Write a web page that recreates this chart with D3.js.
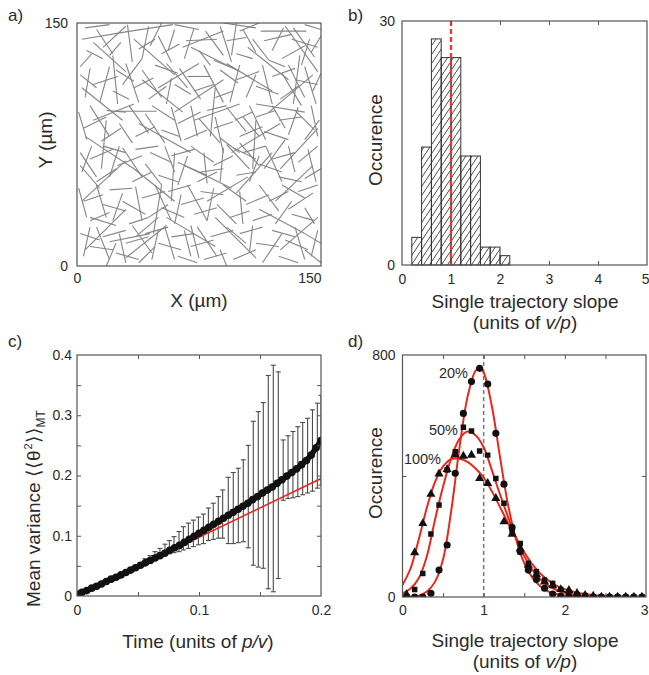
<!DOCTYPE html>
<html lang="en">
<head>
<meta charset="UTF-8">
<title>Trajectory slopes</title>
<script src="https://cdn.jsdelivr.net/npm/d3@7"></script>
<style>
  body { margin: 0; background: #fff; }
  svg { font-family: "Liberation Sans", Arial, sans-serif; }
</style>
</head>
<body>
<svg id="fig" width="649" height="675"></svg>
<script>
// ---- a) filament segments, [x1, y1, x2, y2] in um
const filaments = [
  [3,140,30,144.5],[30,144.5,59,149],[31,149,34,126],[6,133,16,128],[12,146,22,131],[20,130,27,138],[2,123,9,131],
  [38,134,48,140],[44,148,40,128],[50,142,58,126],[52,131,63,137],[60,146,56,133],[67,139,86,140],[66,128,72,147],
  [75,133,82,124],[79,145,90,130],[88,148,95,126],[92,139,104,141],[98,131,108,128],[102,146,110,132],[108,140,118,127],
  [113,145,141,145],[115,139,132,143],[120,133,127,147],[126,128,140,136],[133,147,146,129],[138,124,143,140],[144,132,150,142],
  [118,127,128,123],[84,127,96,122],
  [2,118,12,110],[5,104,8,122],[10,112,25,117],[14,101,20,123],[22,108,32,103],[24,121,35,114],[30,125,38,101],[35,110,47,116],
  [40,121,52,104],[44,103,55,111],[48,124,62,119],[55,100,58,116],[60,112,70,106],[63,122,76,103],[68,117,82,117],[72,108,84,112],
  [78,124,90,101],[85,104,96,108],[88,121,99,113],[94,101,100,124],[98,115,112,120],[104,104,110,118],[110,111,124,106],
  [114,124,120,100],[120,117,134,122],[125,103,136,111],[130,124,140,104],[134,115,148,112],[140,123,147,100],[145,108,150,119],[126,119,138,99],
  [1,95,6,78],[4,85,18,92],[8,99,20,80],[15,77,27,85],[18,96,30,95],[22.5,95.5,49,95.5],[26,88,34,76],[32,99,44,82],[36,80,48,86],
  [42,94,54,76],[46,99,60,90],[52,84,63,80],[58,98,64,77],[62,88,76,95],[66,78,80,84],[70,99,74,80],[75,91,88,76],[80,96,92,99],
  [84,85,96,89],[88,79,100,70],[92,98,104,83],[97,90,108,95],[100,80,114,86],[106,99,116,78],[110,92,122,96],[115,83,130,78],
  [120,99,128,85],[124,90,138,92],[130,81,136,98],[134,96,146,84],[140,78,149,90],[144,99,148,80],[96,73,110,66],[100,76,112,62],
  [2,70,12,55],[3,58,9,74],[8,66,22,72],[12,52,24,60],[16,74,30,70],[20,55,26,74],[25,62,40,68],[28,73,40,55],[34,52,46,58],
  [36,72,50,74],[42,63,52,50],[45,70,58,64],[50,56,62,52],[54,74,60,58],[58,68,72,72],[62,50,68,68],[66,62,80,56],[70,74,84,64],
  [74,52,86,58],[78,70,80,51],[84,62,96,68],[88,52,90,73],[92,75,106,60],[98,56,110,58],[102,70,116,74],[106,52,112,68],
  [112,63,126,58],[116,74,126,52],[120,66,134,70],[124,55,138,52],[130,74,134,58],[136,64,148,74],[140,54,150,60],[142,72,147,52],
  [1,48,6,30],[4,40,16,44],[8,28,20,33],[12,50,18,30],[16,38,30,34],[20,47,34,48],[22,28,28,45],[28,40,42,32],[32,26,44,30],
  [36,49,40,28],[40,42,54,46],[44,30,56,38],[48,50,58,28],[52,36,66,30],[56,46,70,50],[60,26,64,44],[64,38,78,42],[68,50,80,28],
  [72,32,86,36],[76,46,90,44],[80,28,84,48],[86,38,98,26],[90,50,104,40],[94,30,106,34],[100,46,102,26],[104,38,118,44],
  [108,28,120,32],[112,50,124,34],[118,40,130,46],[122,26,132,40],[126,50,140,42],[132,32,146,28],[136,46,148,50],[140,36,146,26],
  [2,20,14,16],[4,6,8,24],[8,12,22,10],[12,24,20,4],[16,18,30,22],[18,0,24,14],[24,8,38,4],[26,20,30,2],[30,14,44,18],
  [34,25,46,8],[38,2,48,12],[42,20,56,24],[46,4,50,22],[50,14,64,10],[54,24,60,4],[58,18,72,20],[62,6,74,2],[66,22,70,6],
  [70,12,84,16],[74,24,86,6],[78,4,92,8],[82,18,96,22],[88,10,92,0],[92,24,104,14],[96,4,110,10],[100,20,114,24],[106,8,108,25],
  [110,14,124,12],[114,2,126,20],[120,22,134,18],[124,6,136,2],[128,16,142,10],[134,24,140,4],[140,20,150,14],[144,6,148,22],
  [5,147,20,149],[60,149,75,146],[90,150,110,147],[140,149,150,146],
  [10,138,30,120],[35,140,60,118],[70,135,100,120],[105,135,130,115],[128,148,148,120],
  [3,110,28,90],[40,115,65,95],[60,95,90,115],[92,125,120,108],[118,95,145,118],
  [5,80,35,60],[38,88,70,70],[72,90,100,100],[95,70,125,88],[125,60,148,85],
  [3,40,30,65],[35,60,60,40],[62,64,95,48],[98,45,120,70],[122,40,145,62],
  [5,10,30,35],[30,5,55,25],[55,30,85,12],[85,30,110,5],[112,35,140,20],[125,10,148,30],
  [15,60,18,90],[47,20,52,50],[82,80,85,110],[108,60,110,90],[133,100,137,130],[22,130,25,100],[58,40,60,70],[95,130,98,150],
  [10,90,35,100],[50,110,75,125],[80,40,105,55],[110,100,140,95],[20,15,45,20],[65,135,90,145],
  [2,62,14,48],[140,10,150,2],[45,136,52,150],[115,60,128,78],[85,92,90,70],[28,112,40,128],[70,25,75,5],[100,145,112,150],
  [8,30,24,25],[36,18,50,30],[130,35,145,45],[132,140,148,135],[55,125,68,110],[76,58,90,60],[102,92,112,80],[16,135,30,148]
];

// ---- b) histogram of single trajectory slopes
const binStarts = [0.2, 0.4, 0.6, 0.8, 1.0, 1.2, 1.4, 1.6, 1.8, 2.0];
const binCounts = [3.4, 14.5, 27.8, 25.5, 25.5, 13.4, 13.4, 2.2, 2.2, 1.15];
const binWidth = 0.2;

// ---- c) mean variance vs time
const timePts = [0,0.004,0.008,0.012,0.016,0.02,0.024,0.028,0.032,0.036,0.04,0.044,0.048,0.052,0.056,0.06,0.064,0.068,
  0.072,0.076,0.08,0.084,0.088,0.092,0.096,0.1,0.104,0.108,0.112,0.116,0.12,0.124,0.128,0.132,0.136,0.14,0.144,0.148,
  0.152,0.156,0.16,0.164,0.168,0.172,0.176,0.18,0.184,0.188,0.192,0.196,0.2];
const meanVar = [0.003,0.006,0.009,0.013,0.016,0.02,0.024,0.028,0.031,0.035,0.039,0.043,0.047,0.051,0.055,0.059,0.063,0.067,
  0.071,0.076,0.08,0.084,0.089,0.094,0.099,0.104,0.109,0.114,0.119,0.124,0.129,0.134,0.139,0.144,0.149,0.154,0.16,0.165,
  0.171,0.176,0.181,0.187,0.193,0.199,0.205,0.211,0.218,0.225,0.234,0.246,0.258];
const errT = [0.0557,0.0598,0.0639,0.068,0.0721,0.0757,0.0795,0.0836,0.0872,0.0913,0.0954,0.0995,0.1036,0.1077,0.1117,
  0.1158,0.1194,0.124,0.1281,0.1322,0.1363,0.1404,0.1445,0.1486,0.1527,0.1568,0.1609,0.165,0.169,0.173,0.177,0.181,
  0.185,0.189,0.193,0.197,0.2];
const errHi = [0.062,0.067,0.0736,0.079,0.086,0.092,0.0985,0.107,0.115,0.121,0.126,0.131,0.136,0.146,0.154,0.165,0.176,
  0.197,0.205,0.212,0.226,0.25,0.29,0.306,0.321,0.366,0.383,0.372,0.259,0.266,0.273,0.281,0.288,0.295,0.309,0.32,0.333];
const errLo = [0.054,0.058,0.0625,0.065,0.068,0.07,0.072,0.0736,0.0764,0.079,0.082,0.085,0.087,0.092,0.094,0.096,0.096,
  0.087,0.087,0.0885,0.09,0.08,0.051,0.048,0.046,0.012,0.007,0.029,0.159,0.162,0.163,0.165,0.168,0.171,0.174,0.179,0.184];
const fitT = [0, 0.2];
const fitVar = [0, 0.195];

// ---- d) slope distributions for three sampling fractions
const slopeCenters = [0.05,0.15,0.25,0.35,0.45,0.55,0.65,0.75,0.85,0.95,1.05,1.15,1.25,1.35,1.45,1.55,1.65,1.75,1.85,1.95,
  2.05,2.15,2.25,2.35,2.45,2.55,2.65,2.75,2.85,2.95];
const occ20  = [0,0,0,12,89,172,409,607,712,756,704,541,373,230,150,89,58,29,10,3,0,0,0,0,0,0,0,0,0,0];
const occ50  = [0,25,78,208,304,420,480,561,549,483,469,392,310,220,177,111,84,56,45,25,15,8,5,0,0,0,0,0,0,0];
const occ100 = [8,147,243,340,407,422,470,466,469,392,376,326,249,208,160,105,75,50,38,25,22,12,6,3,0,0,0,0,0,0];
const fit20X = [0,0.2,0.3,0.4,0.5,0.6,0.7,0.8,0.9,0.95,1.0,1.1,1.2,1.3,1.4,1.5,1.6,1.7,1.8,1.9,2.0,2.2,2.5,3.0];
const fit20Y = [0,4,18,50,125,285,490,660,748,758,742,632,465,305,190,112,64,35,18,9,4,1,0,0];
const fitX = [0,0.1,0.2,0.3,0.4,0.5,0.6,0.7,0.8,0.9,1.0,1.1,1.2,1.3,1.4,1.5,1.6,1.7,1.8,1.9,2.0,2.2,2.5,3.0];
const fit50Y  = [12,28,62,135,255,365,458,522,547,535,495,420,340,265,195,135,90,58,37,23,14,5,1,0];
const fit100Y = [40,95,190,295,380,432,456,457,447,425,395,350,298,245,195,148,108,77,54,37,26,12,4,1];

const ink = '#2b2b2b', frameInk = '#555', red = '#e8281c';
const svg = d3.select('#fig');
const defs = svg.append('defs');

// hatch for histogram bars
const hatch = defs.append('pattern').attr('id', 'hatch')
  .attr('patternUnits', 'userSpaceOnUse').attr('width', 6).attr('height', 9);
hatch.append('path').attr('d', 'M-1.5,11.25 L7.5,-2.25')
  .attr('stroke', '#333').attr('stroke-width', 0.9).attr('fill', 'none');

function frame(x, y) {
  svg.append('rect')
    .attr('x', x.range()[0]).attr('y', y.range()[1])
    .attr('width', x.range()[1] - x.range()[0])
    .attr('height', y.range()[0] - y.range()[1])
    .attr('fill', 'none').attr('stroke', frameInk).attr('stroke-width', 1.2);
}

function labels(axis, tx, ty) {
  const g = svg.append('g').attr('transform', `translate(${tx},${ty})`).call(axis);
  g.select('.domain').remove();
  g.attr('font-size', 14).attr('font-family', null).attr('color', ink);
  return g;
}

function innerTicks(axis, tx, ty) {
  const g = svg.append('g').attr('transform', `translate(${tx},${ty})`)
    .call(axis.tickSize(-4).tickFormat(''));
  g.select('.domain').remove();
  g.selectAll('line').attr('stroke', frameInk);
}

function axisTitle(x, y, txt, rotate) {
  return svg.append('text')
    .attr('transform', `translate(${x},${y})` + (rotate ? ' rotate(-90)' : ''))
    .attr('text-anchor', 'middle').attr('font-size', 19).attr('fill', ink)
    .text(txt);
}

function panelTag(x, y, txt) {
  svg.append('text').attr('x', x).attr('y', y).attr('font-size', 17).attr('fill', ink).text(txt);
}

// pull the last tick label inside the window
function endLabel(g, v) {
  g.selectAll('.tick text').filter(d => d === v).attr('text-anchor', 'end').attr('x', 2);
}

// ================= a) =================
const xa = d3.scaleLinear().domain([0, 150]).range([77, 321]);
const ya = d3.scaleLinear().domain([0, 150]).range([266, 23]);
defs.append('clipPath').attr('id', 'clipA').append('rect')
  .attr('x', 77).attr('y', 23).attr('width', 244).attr('height', 243);
svg.append('g').attr('clip-path', 'url(#clipA)')
  .selectAll('line').data(filaments).join('line')
  .attr('x1', d => xa(d[0])).attr('y1', d => ya(d[1]))
  .attr('x2', d => xa(d[2])).attr('y2', d => ya(d[3]))
  .attr('stroke', '#858585').attr('stroke-width', 1.1);
frame(xa, ya);
const axA = labels(d3.axisBottom(xa).tickValues([0, 150]).tickSize(0).tickPadding(7), 0, 266);
axA.selectAll('.tick text').filter(d => d === 150).attr('text-anchor', 'end').attr('x', 0);
labels(d3.axisLeft(ya).tickValues([0, 150]).tickSize(0).tickPadding(9), 77, 0);
axisTitle(199, 307, 'X (\u00b5m)');
axisTitle(51.5, 140, 'Y (\u00b5m)', true);
panelTag(8, 21, 'a)');

// ================= b) =================
const xb = d3.scaleLinear().domain([0, 5]).range([402, 647]);
const yb = d3.scaleLinear().domain([0, 30]).range([265, 21]);
svg.append('g').selectAll('rect').data(binStarts).join('rect')
  .attr('x', d => xb(d)).attr('width', xb(binWidth) - xb(0))
  .attr('y', (d, i) => yb(binCounts[i])).attr('height', (d, i) => yb(0) - yb(binCounts[i]))
  .attr('fill', 'url(#hatch)').attr('stroke', '#333').attr('stroke-width', 1);
svg.append('line').attr('x1', xb(1)).attr('x2', xb(1)).attr('y1', yb(30)).attr('y2', yb(0))
  .attr('stroke', '#ee3424').attr('stroke-width', 2.2).attr('stroke-dasharray', '5,3');
frame(xb, yb);
innerTicks(d3.axisBottom(xb).tickValues([1, 2, 3, 4]), 0, 265);
innerTicks(d3.axisTop(xb).tickValues([1, 2, 3, 4]), 0, 21);
const axB = labels(d3.axisBottom(xb).tickValues([0, 1, 2, 3, 4, 5]).tickFormat(d3.format('d'))
  .tickSize(0).tickPadding(9), 0, 265);
endLabel(axB, 5);
labels(d3.axisLeft(yb).tickValues([0, 30]).tickFormat(d3.format('d')).tickSize(0).tickPadding(7), 402, 0);
axisTitle(525, 308, 'Single trajectory slope');
const ub = axisTitle(525, 329, '(units of ');
ub.append('tspan').attr('font-style', 'italic').text('v/p');
ub.append('tspan').text(')');
axisTitle(381.5, 140, 'Occurence', true);
panelTag(348, 21, 'b)');

// ================= c) =================
const xc = d3.scaleLinear().domain([0, 0.2]).range([77, 321]);
const yc = d3.scaleLinear().domain([0, 0.4]).range([596, 355]);
defs.append('clipPath').attr('id', 'clipC').append('rect')
  .attr('x', 77).attr('y', 355).attr('width', 244).attr('height', 241);
const gc = svg.append('g').attr('clip-path', 'url(#clipC)');
const bars = gc.append('g').attr('stroke', '#4a4a4a').attr('stroke-width', 1.1)
  .selectAll('g').data(errT).join('g');
bars.append('line').attr('x1', d => xc(d)).attr('x2', d => xc(d))
  .attr('y1', (d, i) => yc(errHi[i])).attr('y2', (d, i) => yc(errLo[i]));
bars.append('line').attr('x1', d => xc(d) - 2.5).attr('x2', d => xc(d) + 2.5)
  .attr('y1', (d, i) => yc(errHi[i])).attr('y2', (d, i) => yc(errHi[i]));
bars.append('line').attr('x1', d => xc(d) - 2.5).attr('x2', d => xc(d) + 2.5)
  .attr('y1', (d, i) => yc(errLo[i])).attr('y2', (d, i) => yc(errLo[i]));
gc.append('path').datum(fitT)
  .attr('d', d3.line().x(d => xc(d)).y((d, i) => yc(fitVar[i])))
  .attr('stroke', red).attr('stroke-width', 1.6).attr('fill', 'none');
// thick band under the dots so the series reads as one dense trace
gc.append('path').datum(timePts)
  .attr('d', d3.line().x(d => xc(d)).y((d, i) => yc(meanVar[i])))
  .attr('stroke', '#111').attr('stroke-width', 5.5).attr('fill', 'none');
gc.append('g').selectAll('circle').data(timePts).join('circle')
  .attr('cx', d => xc(d)).attr('cy', (d, i) => yc(meanVar[i])).attr('r', 3.8).attr('fill', '#111');
frame(xc, yc);
const cTicks = [0.05, 0.1, 0.15];
innerTicks(d3.axisBottom(xc).tickValues(cTicks), 0, 596);
innerTicks(d3.axisTop(xc).tickValues(cTicks), 0, 355);
innerTicks(d3.axisLeft(yc).tickValues([0.05, 0.1, 0.15, 0.2, 0.25, 0.3, 0.35]), 77, 0);
innerTicks(d3.axisRight(yc).tickValues([0.05, 0.1, 0.15, 0.2, 0.25, 0.3, 0.35]), 321, 0);
labels(d3.axisBottom(xc).tickValues([0, 0.1, 0.2]).tickFormat(d => d === 0 ? '0' : d3.format('.1f')(d))
  .tickSize(0).tickPadding(9), 0, 596);
labels(d3.axisLeft(yc).tickValues([0, 0.1, 0.2, 0.3, 0.4]).tickFormat(d => d === 0 ? '0' : d3.format('.1f')(d))
  .tickSize(0).tickPadding(5), 77, 0);
const tc = axisTitle(198, 648, 'Time (units of ');
tc.append('tspan').attr('font-style', 'italic').text('p/v');
tc.append('tspan').text(')');
const yl = svg.append('text').attr('transform', 'translate(39.5,607) rotate(-90)')
  .attr('font-size', 19).attr('fill', ink).text('Mean variance ');
yl.append('tspan').attr('letter-spacing', 1).text('\u27e8\u27e8\u03b8');
yl.append('tspan').attr('font-size', 11).attr('dy', -8).text('2');
yl.append('tspan').attr('dy', 8).attr('letter-spacing', 1).text('\u27e9\u27e9');
yl.append('tspan').attr('font-size', 12).attr('dy', 5).text('MT');
panelTag(8, 347, 'c)');

// ================= d) =================
const xd = d3.scaleLinear().domain([0, 3]).range([402.5, 646]);
const yd = d3.scaleLinear().domain([0, 800]).range([597, 355]);
defs.append('clipPath').attr('id', 'clipD').append('rect')
  .attr('x', 402.5).attr('y', 355).attr('width', 243.5).attr('height', 242);
const gd = svg.append('g').attr('clip-path', 'url(#clipD)');
gd.append('line').attr('x1', xd(1)).attr('x2', xd(1)).attr('y1', yd(800)).attr('y2', yd(0))
  .attr('stroke', '#777').attr('stroke-width', 1.5).attr('stroke-dasharray', '4,3');
const fitLine = d3.line().curve(d3.curveCatmullRom.alpha(0.5));
[[fit20X, fit20Y], [fitX, fit50Y], [fitX, fit100Y]].forEach(([xs, ys]) => {
  gd.append('path').datum(xs.map((x, i) => [xd(x), yd(ys[i])]))
    .attr('d', fitLine).attr('stroke', red).attr('stroke-width', 2).attr('fill', 'none');
});
const markerSets = [
  { vals: occ100, sym: d3.symbolTriangle, size: 36 },
  { vals: occ50, sym: d3.symbolSquare, size: 30 },
  { vals: occ20, sym: d3.symbolCircle, size: 40 }
];
markerSets.forEach(m => {
  gd.append('g').selectAll('path').data(slopeCenters).join('path')
    .attr('transform', (d, i) => `translate(${xd(d)},${yd(m.vals[i])})`)
    .attr('d', d3.symbol(m.sym, m.size)).attr('fill', '#111');
});
frame(xd, yd);
const dTicks = [0.5, 1, 1.5, 2, 2.5];
innerTicks(d3.axisBottom(xd).tickValues(dTicks), 0, 597);
innerTicks(d3.axisTop(xd).tickValues(dTicks), 0, 355);
innerTicks(d3.axisLeft(yd).tickValues([400]), 402.5, 0);
innerTicks(d3.axisRight(yd).tickValues([400]), 646, 0);
const axD = labels(d3.axisBottom(xd).tickValues([0, 1, 2, 3]).tickFormat(d3.format('d'))
  .tickSize(0).tickPadding(8), 0, 597);
endLabel(axD, 3);
labels(d3.axisLeft(yd).tickValues([0, 800]).tickFormat(d3.format('d')).tickSize(0).tickPadding(7), 402.5, 0);
[['20%', 468, 378], ['50%', 458, 435], ['100%', 441, 464]].forEach(([t, x, y]) => {
  svg.append('text').attr('x', x).attr('y', y).attr('text-anchor', 'end')
    .attr('font-size', 14.5).attr('fill', ink).text(t);
});
axisTitle(525, 647, 'Single trajectory slope');
const ud = axisTitle(525, 668, '(units of ');
ud.append('tspan').attr('font-style', 'italic').text('v/p');
ud.append('tspan').text(')');
axisTitle(381.5, 473, 'Occurence', true);
panelTag(348, 347, 'd)');
</script>
</body>
</html>
